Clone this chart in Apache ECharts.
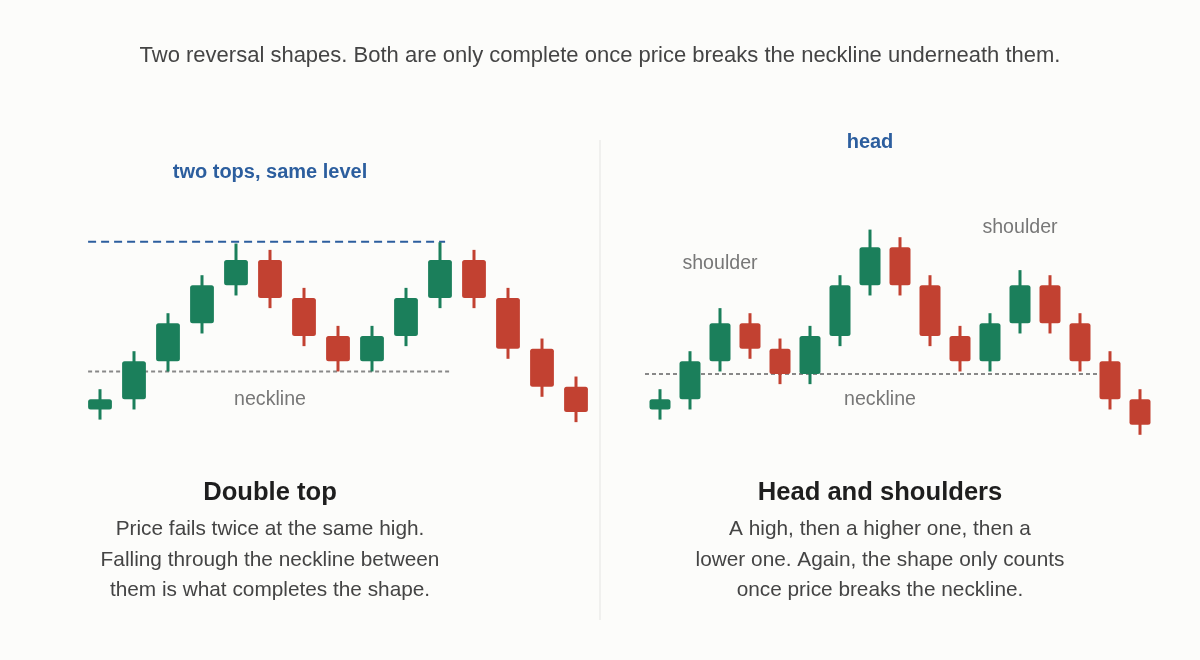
<!DOCTYPE html>
<html>
<head>
<meta charset="utf-8">
<script src="https://cdn.jsdelivr.net/npm/echarts@6/dist/echarts.min.js"></script>
<style>
html,body{margin:0;padding:0;background:#fcfcfa;}
#c{width:1200px;height:660px;}
</style>
</head>
<body>
<div id="c"></div>
<script>
// ---- data (price units) ----
// Double top: [open, close, low, high]
const doubleTopOHLC = [
  [3.2, 4.0, 2.4, 4.8],
  [4.0, 7.0, 3.2, 7.8],
  [7.0, 10.0, 6.2, 10.8],
  [10.0, 13.0, 9.2, 13.8],
  [13.0, 15.0, 12.2, 16.3],
  [15.0, 12.0, 11.2, 15.8],
  [12.0, 9.0, 8.2, 12.8],
  [9.0, 7.0, 6.2, 9.8],
  [7.0, 9.0, 6.2, 9.8],
  [9.0, 12.0, 8.2, 12.8],
  [12.0, 15.0, 11.2, 16.4],
  [15.0, 12.0, 11.2, 15.8],
  [12.0, 8.0, 7.2, 12.8],
  [8.0, 5.0, 4.2, 8.8],
  [5.0, 3.0, 2.2, 5.8]
];
// Head and shoulders: [open, close, low, high]
const headShouldersOHLC = [
  [3.2, 4.0, 2.4, 4.8],
  [4.0, 7.0, 3.2, 7.8],
  [7.0, 10.0, 6.2, 11.2],
  [10.0, 8.0, 7.2, 10.8],
  [8.0, 6.0, 5.2, 8.8],
  [6.0, 9.0, 5.2, 9.8],
  [9.0, 13.0, 8.2, 13.8],
  [13.0, 16.0, 12.2, 17.4],
  [16.0, 13.0, 12.2, 16.8],
  [13.0, 9.0, 8.2, 13.8],
  [9.0, 7.0, 6.2, 9.8],
  [7.0, 10.0, 6.2, 10.8],
  [10.0, 13.0, 9.2, 14.2],
  [13.0, 10.0, 9.2, 13.8],
  [10.0, 7.0, 6.2, 10.8],
  [7.0, 4.0, 3.2, 7.8],
  [4.0, 2.0, 1.2, 4.8]
];
// reference levels: [xStart, xEnd, price]
const doubleTopResistance = [-0.35, 10.15, 16.45];
const doubleTopNeckline = [-0.35, 10.35, 6.2];
const hsNeckline = [-0.5, 15.22, 6.0];

const subtitleText = 'Two reversal shapes. Both are only complete once price breaks the neckline underneath them.';
const leftTitle = 'Double top';
const leftBody = ['Price fails twice at the same high.', 'Falling through the neckline between', 'them is what completes the shape.'];
const rightTitle = 'Head and shoulders';
const rightBody = ['A high, then a higher one, then a', 'lower one. Again, the shape only counts', 'once price breaks the neckline.'];

// ---- styles ----
const GREEN = '#1b7f5b';
const RED = '#c24131';
const BLUE = '#2c5e9e';
const FONT = '"Liberation Sans", Arial, Helvetica, sans-serif';

function toSeriesData(ohlc) {
  return ohlc.map((d, i) => [i, d[0], d[1], d[2], d[3]]);
}

function renderCandle(params, api) {
  const x = api.value(0), o = api.value(1), c = api.value(2), l = api.value(3), h = api.value(4);
  const top = api.coord([x, Math.max(o, c)]);
  const bot = api.coord([x, Math.min(o, c)]);
  const hi = api.coord([x, h]);
  const lo = api.coord([x, l]);
  const w = api.size([1, 0])[0] * 0.7;
  const color = c >= o ? GREEN : RED;
  return {
    type: 'group',
    children: [
      { type: 'rect', shape: { x: hi[0] - 1.5, y: hi[1], width: 3, height: lo[1] - hi[1] }, style: { fill: color } },
      { type: 'rect', shape: { x: top[0] - w / 2, y: top[1], width: w, height: bot[1] - top[1], r: 2.5 }, style: { fill: color } }
    ]
  };
}

function levelLine(level) {
  return [[level[0], level[2]], [level[1], level[2]]];
}

function txt(text, x, y, size, color, weight) {
  return {
    type: 'text', silent: true,
    style: {
      text: text, x: x, y: y, textAlign: 'center', textVerticalAlign: 'middle',
      font: (weight || 'normal') + ' ' + size + 'px ' + FONT, fill: color
    }
  };
}

const graphics = [
  txt(subtitleText, 600, 55.5, 22, '#444'),
  txt('two tops, same level', 270, 172.5, 20, BLUE, 'bold'),
  txt('head', 870, 142.5, 20, BLUE, 'bold'),
  txt('shoulder', 720, 263.5, 19.6, '#777'),
  txt('shoulder', 1020, 227.5, 19.6, '#777'),
  txt('neckline', 270, 399.5, 19.6, '#777'),
  txt('neckline', 880, 399.5, 19.6, '#777'),
  txt(leftTitle, 270, 492.5, 25.6, '#1e1e1e', 'bold'),
  txt(rightTitle, 880, 492.5, 25.6, '#1e1e1e', 'bold'),
  { type: 'line', silent: true, shape: { x1: 600, y1: 140, x2: 600, y2: 620 }, style: { stroke: '#ececea', lineWidth: 1.5 } }
];
leftBody.forEach((t, i) => graphics.push(txt(t, 270, 529.5 + i * 30.5, 20.8, '#444')));
rightBody.forEach((t, i) => graphics.push(txt(t, 880, 529.5 + i * 30.5, 20.8, '#444')));

const chart = echarts.init(document.getElementById('c'), null, { renderer: 'canvas' });
chart.setOption({
  backgroundColor: '#fcfcfa',
  animation: false,
  grid: [
    { left: 83, width: 510, top: 196.67, height: 253.33 },
    { left: 645, width: 510, top: 196.67, height: 253.33 }
  ],
  xAxis: [
    { type: 'value', gridIndex: 0, min: -0.5, max: 14.5, show: false, splitLine: { show: false } },
    { type: 'value', gridIndex: 1, min: -0.5, max: 16.5, show: false, splitLine: { show: false } }
  ],
  yAxis: [
    { type: 'value', gridIndex: 0, min: 0, max: 20, show: false, splitLine: { show: false } },
    { type: 'value', gridIndex: 1, min: 0, max: 20, show: false, splitLine: { show: false } }
  ],
  series: [
    { type: 'line', xAxisIndex: 0, yAxisIndex: 0, data: levelLine(doubleTopNeckline), showSymbol: false, silent: true,
      lineStyle: { color: '#888', width: 2, type: [4, 3] }, z: 1 },
    { type: 'line', xAxisIndex: 0, yAxisIndex: 0, data: levelLine(doubleTopResistance), showSymbol: false, silent: true,
      lineStyle: { color: BLUE, width: 2, type: [8, 5] }, z: 1 },
    { type: 'line', xAxisIndex: 1, yAxisIndex: 1, data: levelLine(hsNeckline), showSymbol: false, silent: true,
      lineStyle: { color: '#888', width: 2, type: [4, 3] }, z: 1 },
    { type: 'custom', xAxisIndex: 0, yAxisIndex: 0, renderItem: renderCandle, data: toSeriesData(doubleTopOHLC), z: 2,
      encode: { x: 0, y: [1, 2, 3, 4] } },
    { type: 'custom', xAxisIndex: 1, yAxisIndex: 1, renderItem: renderCandle, data: toSeriesData(headShouldersOHLC), z: 2,
      encode: { x: 0, y: [1, 2, 3, 4] } }
  ],
  graphic: graphics
});
</script>
</body>
</html>
